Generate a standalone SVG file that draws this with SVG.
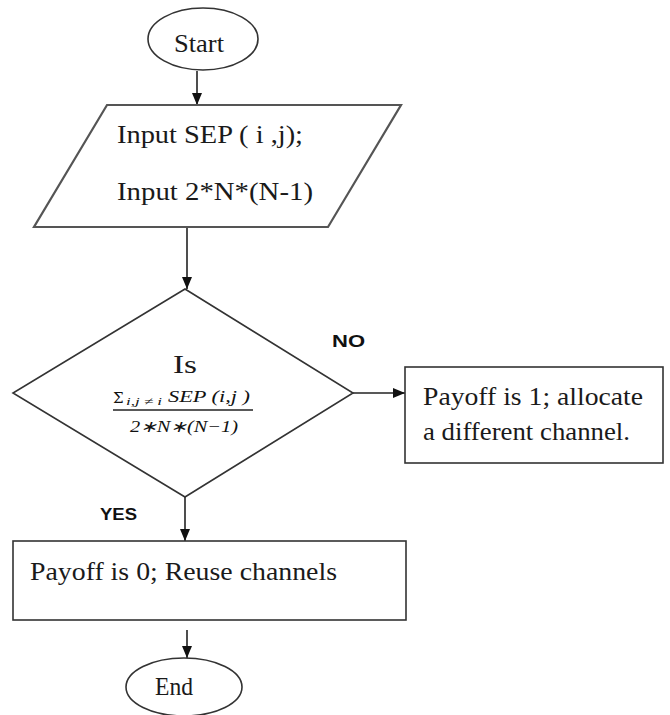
<svg xmlns="http://www.w3.org/2000/svg" width="670" height="715" viewBox="0 0 670 715">
  <style>
    .shape { fill: #ffffff; stroke: #333333; stroke-width: 1.6; }
    .io { fill: #ffffff; stroke: #555555; stroke-width: 2.2; }
    .label { font-family: "Liberation Serif", "Times New Roman", serif; font-size: 25px; fill: #1a1a1a; }
    .math { font-family: "Liberation Serif", "Times New Roman", serif; font-style: italic; fill: #111111; }
    .branch { font-family: "Liberation Sans", Arial, sans-serif; font-weight: bold; font-size: 16px; fill: #111111; }
    .edge { stroke: #222222; stroke-width: 1.6; fill: none; marker-end: url(#arrow); }
  </style>
  <defs>
    <marker id="arrow" viewBox="0 0 12 10" refX="12" refY="5" markerWidth="12" markerHeight="10" markerUnits="userSpaceOnUse" orient="auto">
      <path d="M0,0 L12,5 L0,10 Z" fill="#111111"/>
    </marker>
  </defs>

  <rect width="670" height="715" fill="#ffffff"/>

  <!-- connectors -->
  <g id="connectors">
    <line class="edge" x1="197" y1="71" x2="197" y2="105"/>
    <line class="edge" x1="187" y1="228" x2="187" y2="289"/>
    <line class="edge" x1="353" y1="393" x2="405" y2="393"/>
    <line class="edge" x1="185" y1="497" x2="185" y2="541"/>
    <line class="edge" x1="187" y1="630" x2="187" y2="658"/>
    <text class="branch" x="332" y="347" textLength="33" lengthAdjust="spacingAndGlyphs">NO</text>
    <text class="branch" x="100" y="520" textLength="37" lengthAdjust="spacingAndGlyphs">YES</text>
  </g>

  <!-- start terminal -->
  <g id="start">
    <ellipse class="shape" cx="203" cy="39" rx="55" ry="31"/>
    <text class="label" x="174" y="52" textLength="50" lengthAdjust="spacingAndGlyphs">Start</text>
  </g>

  <!-- input parallelogram -->
  <g id="input">
    <polygon class="io" points="107,105 401,105 328,227 34,227"/>
    <text class="label" x="117" y="143" textLength="186" lengthAdjust="spacingAndGlyphs">Input  SEP ( i ,j);</text>
    <text class="label" x="117" y="200" textLength="196" lengthAdjust="spacingAndGlyphs">Input  2*N*(N-1)</text>
  </g>

  <!-- decision -->
  <g id="decision">
    <polygon class="shape" points="185,289 353,393 185,497 13,393"/>
    <text class="label" x="173" y="373" textLength="24" lengthAdjust="spacingAndGlyphs">Is</text>
    <text x="113" y="403" font-family="DejaVu Serif, serif" font-size="15" fill="#111111">Σ</text>
    <text class="math" x="126" y="405" font-size="11" textLength="36" lengthAdjust="spacingAndGlyphs">i,j ≠ i</text>
    <text class="math" x="168" y="402" font-size="16" textLength="82" lengthAdjust="spacingAndGlyphs">SEP  (i,j )</text>
    <line x1="113" y1="410" x2="253" y2="410" stroke="#222222" stroke-width="1.3"/>
    <text class="math" x="130" y="432" font-size="16" textLength="108" lengthAdjust="spacingAndGlyphs">2∗N∗(N−1)</text>
  </g>

  <!-- NO branch -->
  <g id="payoff-one">
    <rect class="shape" x="405" y="367" width="258" height="96"/>
    <text class="label" x="423" y="405" textLength="220" lengthAdjust="spacingAndGlyphs">Payoff  is  1;  allocate</text>
    <text class="label" x="423" y="440" textLength="207" lengthAdjust="spacingAndGlyphs">a different  channel.</text>
  </g>

  <!-- YES branch -->
  <g id="payoff-zero">
    <rect class="shape" x="13" y="541" width="393" height="79"/>
    <text class="label" x="30" y="580" textLength="307" lengthAdjust="spacingAndGlyphs">Payoff  is  0;  Reuse  channels</text>
  </g>

  <!-- end terminal -->
  <g id="end">
    <ellipse class="shape" cx="184" cy="687" rx="58" ry="29"/>
    <text class="label" x="155" y="695" textLength="38" lengthAdjust="spacingAndGlyphs">End</text>
  </g>
</svg>
